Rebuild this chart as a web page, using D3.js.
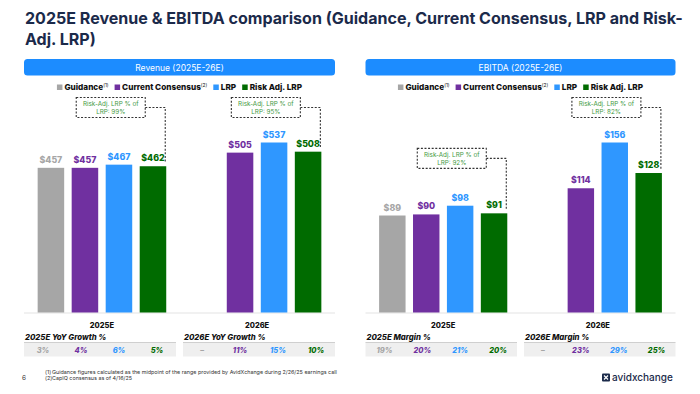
<!DOCTYPE html>
<html>
<head>
<meta charset="utf-8">
<script src="https://cdn.jsdelivr.net/npm/d3@7"></script>
<style>
  body { margin: 0; background: #fff; }
  svg { display: block; font-family: 'Inter', 'Open Sans', sans-serif; }
</style>
</head>
<body>
<div id="chart"></div>
<script>
// data
const categories = ["2025E", "2026E"]
const seriesNames = ["Guidance", "Current Consensus", "LRP", "Risk Adj. LRP"]
const seriesNotes = ["(1)", "(2)", "", ""]
const seriesColors = ["#a6a6a6", "#7030a0", "#2f97ff", "#006b00"]

const revenue2025 = [457, 457, 467, 462]
const revenue2026 = [null, 505, 537, 508]
const ebitda2025 = [89, 90, 98, 91]
const ebitda2026 = [null, 114, 156, 128]

const revenueRiskPct = ["99%", "95%"]
const ebitdaRiskPct = ["92%", "82%"]

const revGrowth2025 = ["3%", "4%", "6%", "5%"]
const revGrowth2026 = ["–", "11%", "15%", "10%"]
const margin2025 = ["19%", "20%", "21%", "20%"]
const margin2026 = ["–", "23%", "29%", "25%"]

const footnotes = [
  "Guidance figures calculated as the midpoint of the range provided by AvidXchange during 2/26/25 earnings call",
  "CapIQ consensus as of 4/16/25"
]

const width = 700
const height = 394
const navy = "#1b2a4a"

const svg = d3.select("#chart").append("svg")
  .attr("width", width)
  .attr("height", height)

// title, sized so the first line spans the same width as the slide
const title = svg.append("text")
  .attr("fill", navy)
  .attr("font-size", 17)
  .attr("font-weight", 700)
const line1 = title.append("tspan").attr("x", 25).attr("y", 24)
  .text("2025E Revenue & EBITDA comparison (Guidance, Current Consensus, LRP and Risk-")
title.append("tspan").attr("x", 25).attr("y", 45)
  .text("Adj. LRP)")
const w1 = line1.node().getComputedTextLength()
title.attr("font-size", 17 * 658 / w1)

function drawPanel(opts) {
  const { left, right, name, data, riskPct, tableTitles, tableValues } = opts
  const g = svg.append("g")
  const baseline = 312.5

  // header pill
  g.append("rect")
    .attr("x", left).attr("y", 59)
    .attr("width", right - left).attr("height", 16.5)
    .attr("rx", 3.5)
    .attr("fill", "#1c8cff")
  g.append("text")
    .attr("x", (left + right) / 2).attr("y", 70.5)
    .attr("text-anchor", "middle")
    .attr("fill", "#fff")
    .attr("font-size", 8.5)
    .text(name)

  // scales
  const x0 = d3.scaleBand()
    .domain(categories)
    .range([left, right])
    .paddingInner(0.171)
    .paddingOuter(0.088)
  const x1 = d3.scaleBand()
    .domain(seriesNames)
    .range([0, x0.bandwidth()])
    .paddingInner(0.22)
  const maxV = d3.max(data.flat())
  const y = d3.scaleLinear()
    .domain([0, maxV])
    .range([baseline, baseline - 170])

  // baseline
  g.append("line")
    .attr("x1", left).attr("x2", right)
    .attr("y1", baseline + 0.5).attr("y2", baseline + 0.5)
    .attr("stroke", "#e3e3e3")

  categories.forEach((c, ci) => {
    const vals = data[ci]
    const grp = g.append("g")
    const items = seriesNames.map((s, i) => ({ s, v: vals[i], i })).filter(d => d.v != null)

    grp.selectAll("rect")
      .data(items)
      .join("rect")
      .attr("x", d => x0(c) + x1(d.s))
      .attr("y", d => y(d.v))
      .attr("width", x1.bandwidth())
      .attr("height", d => baseline - y(d.v))
      .attr("fill", d => seriesColors[d.i])

    grp.selectAll("text.val")
      .data(items)
      .join("text")
      .attr("class", "val")
      .attr("x", d => x0(c) + x1(d.s) + x1.bandwidth() / 2)
      .attr("y", d => y(d.v) - 5)
      .attr("text-anchor", "middle")
      .attr("font-size", 8.8)
      .attr("font-weight", 800)
      .attr("fill", d => seriesColors[d.i])
      .text(d => `$${d.v}`)

    // category label
    g.append("text")
      .attr("x", x0(c) + x0.bandwidth() / 2)
      .attr("y", 327.5)
      .attr("text-anchor", "middle")
      .attr("font-size", 7.5)
      .attr("font-weight", 800)
      .attr("fill", "#111")
      .text(c)

    // risk-adjusted annotation: sits under the legend unless the bar is low
    const greenX = x0(c) + x1(seriesNames[3]) + x1.bandwidth()
    const greenTop = y(vals[3])
    const boxBottom = greenTop - 45 > 150 ? greenTop - 45 : 117.5
    const boxTop = boxBottom - 20
    const boxRight = greenX - 21
    const boxLeft = boxRight - 69
    const midY = (boxTop + boxBottom) / 2
    g.append("rect")
      .attr("x", boxLeft).attr("y", boxTop)
      .attr("width", boxRight - boxLeft).attr("height", boxBottom - boxTop)
      .attr("fill", "#fff")
      .attr("stroke", "#333")
      .attr("stroke-width", 1.1)
      .attr("stroke-dasharray", "2,1.6")
    g.append("path")
      .attr("d", `M${boxRight},${midY}H${greenX - 1}V${greenTop - 4}`)
      .attr("fill", "none")
      .attr("stroke", "#333")
      .attr("stroke-width", 1.1)
      .attr("stroke-dasharray", "2,1.6")
    const at = g.append("text")
      .attr("text-anchor", "middle")
      .attr("font-size", 6.3)
      .attr("fill", "#3f9a3f")
    at.append("tspan").attr("x", (boxLeft + boxRight) / 2).attr("y", midY - 1.5)
      .text("Risk-Adj. LRP % of")
    at.append("tspan").attr("x", (boxLeft + boxRight) / 2).attr("y", midY + 6.3)
      .text(`LRP: ${riskPct[ci]}`)

    // table
    const tLeft = ci === 0 ? left : (left + right) / 2 + 3.5
    const tRight = ci === 0 ? (left + right) / 2 - 3.5 : right
    g.append("text")
      .attr("x", tLeft + 1).attr("y", 340)
      .attr("font-size", 7.8)
      .attr("font-weight", 800)
      .attr("font-style", "italic")
      .attr("fill", "#111")
      .text(tableTitles[ci])
    g.append("rect")
      .attr("x", tLeft).attr("y", 342.5)
      .attr("width", tRight - tLeft).attr("height", 14)
      .attr("fill", "#efefef")
    g.append("line")
      .attr("x1", tLeft).attr("x2", tRight)
      .attr("y1", 342.5).attr("y2", 342.5)
      .attr("stroke", "#cfcfcf")
    const tx = d3.scaleBand().domain(seriesNames).range([tLeft, tRight])
    g.selectAll(null)
      .data(tableValues[ci].map((v, i) => ({ v, s: seriesNames[i], i })))
      .join("text")
      .attr("x", d => tx(d.s) + tx.bandwidth() / 2)
      .attr("y", 352.5)
      .attr("text-anchor", "middle")
      .attr("font-size", 7.5)
      .attr("font-weight", 800)
      .attr("font-style", "italic")
      .attr("fill", d => seriesColors[d.i])
      .text(d => d.v)
  })

  // legend (drawn last so it stays on top)
  const legend = g.append("g")
  let lx = 0
  seriesNames.forEach((s, i) => {
    const item = legend.append("g").attr("transform", `translate(${lx},0)`)
    item.append("rect")
      .attr("x", 0).attr("y", -5.5)
      .attr("width", 5.5).attr("height", 5.5)
      .attr("fill", seriesColors[i])
    const t = item.append("text")
      .attr("x", 7.5).attr("y", 0)
      .attr("font-size", 8.2)
      .attr("font-weight", 800)
      .attr("fill", "#111")
      .text(s)
    if (seriesNotes[i]) {
      t.append("tspan")
        .attr("dy", -3.5)
        .attr("font-size", 4.8)
        .attr("font-weight", 400)
        .text(seriesNotes[i])
    }
    lx += 7.5 + t.node().getComputedTextLength() + 6
  })
  legend.attr("transform", `translate(${(left + right) / 2 - (lx - 6) / 2},90)`)
}

drawPanel({
  left: 24, right: 335,
  name: "Revenue (2025E-26E)",
  data: [revenue2025, revenue2026],
  riskPct: revenueRiskPct,
  tableTitles: ["2025E YoY Growth %", "2026E YoY Growth %"],
  tableValues: [revGrowth2025, revGrowth2026]
})

drawPanel({
  left: 365.5, right: 675.5,
  name: "EBITDA (2025E-26E)",
  data: [ebitda2025, ebitda2026],
  riskPct: ebitdaRiskPct,
  tableTitles: ["2025E Margin %", "2026E Margin %"],
  tableValues: [margin2025, margin2026]
})

// footer
svg.append("text")
  .attr("x", 22).attr("y", 380)
  .attr("font-size", 6.5)
  .attr("fill", "#333")
  .text("6")
footnotes.forEach((f, i) => {
  svg.append("text")
    .attr("x", 45).attr("y", 373.5 + i * 6)
    .attr("font-size", 5.4)
    .attr("fill", "#333")
    .text(`(${i + 1})`)
  svg.append("text")
    .attr("x", 52).attr("y", 373.5 + i * 6)
    .attr("font-size", 5.4)
    .attr("fill", "#333")
    .text(f)
})

// logo
const logo = svg.append("g").attr("transform", "translate(602,373.5)")
logo.append("rect")
  .attr("width", 8).attr("height", 8).attr("rx", 1)
  .attr("fill", navy)
logo.append("path")
  .attr("d", "M2,2L6,6M6,2L2,6")
  .attr("stroke", "#fff").attr("stroke-width", 1.2)
logo.append("text")
  .attr("x", 10).attr("y", 7.8)
  .attr("font-size", 10)
  .attr("font-weight", 500)
  .attr("fill", navy)
  .text("avidxchange")
</script>
</body>
</html>
